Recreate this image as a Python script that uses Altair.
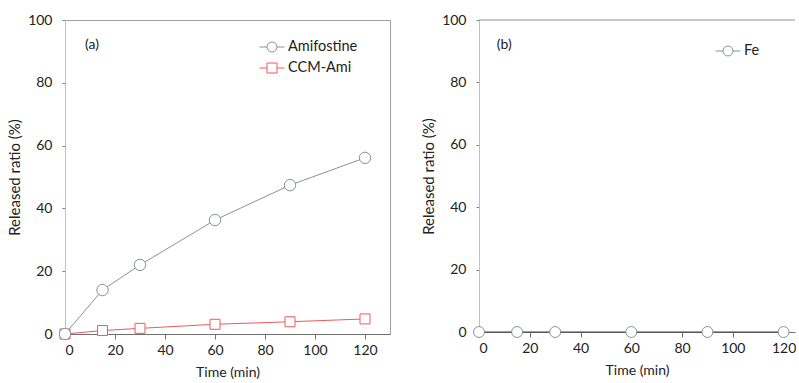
import altair as alt
import pandas as pd

time_a = [0, 15, 30, 60, 90, 120]
amifostine = [0, 14.0, 22.0, 36.3, 47.4, 56.1]
ccm_ami = [0, 1.1, 1.8, 3.1, 3.9, 4.8]
time_b = [0, 15, 30, 60, 90, 120]
fe = [0, 0, 0, 0, 0, 0]

df_a = pd.DataFrame(
    {"t": time_a * 2, "v": amifostine + ccm_ami,
     "s": ["Amifostine"] * len(time_a) + ["CCM-Ami"] * len(time_a)}
)
df_b = pd.DataFrame({"t": time_b, "v": fe, "s": ["Fe"] * len(time_b)})

FONT = "Lato"
CIRC = "M -1 0 L -0.4 0 M 0.4 0 L 1 0 M -0.4 0 A 0.4 0.4 0 1 0 0.4 0 A 0.4 0.4 0 1 0 -0.4 0 Z"
SQR = "M -1 0 L -0.4 0 M 0.4 0 L 1 0 M -0.4 -0.4 L 0.4 -0.4 L 0.4 0.4 L -0.4 0.4 Z"

def yaxis():
    return alt.Axis(values=list(range(0, 101, 10)),
                    labelExpr="datum.value % 20 == 0 ? datum.label : ''",
                    title="Released ratio (%)", titleX=-42.5, titleFontWeight="normal",
                    titleFontSize=15, labelFontSize=14, tickSize=3, labelPadding=10,
                    grid=False, domainColor="#c0c0c0", tickColor="#808080",
                    labelColor="#222", titleColor="#222", labelFont=FONT, titleFont=FONT)

def xaxis():
    return alt.Axis(values=[0, 20, 40, 60, 80, 100, 120], title="Time (min)",
                    titleFontWeight="normal", titleFontSize=14, labelFontSize=14,
                    tickSize=5, labelPadding=4, titlePadding=8, grid=False,
                    domainColor="#707070", tickColor="#707070",
                    labelColor="#222", titleColor="#222", labelFont=FONT, titleFont=FONT)

def legend(x, y):
    return alt.Legend(title=None, orient="none", legendX=x, legendY=y,
                      symbolSize=625, labelFontSize=14.5, labelFont=FONT, labelColor="#222",
                      labelOffset=3, rowPadding=1, padding=0, symbolFillColor="white",
                      symbolStrokeWidth=1, symbolOpacity=1)

series_a = ["Amifostine", "CCM-Ami"]
colors_a = ["#8a919c", "#ee5a5a"]
sc_a = alt.Scale(domain=series_a, range=colors_a)
leg_a = legend(194, 14)

xa = alt.X("t:Q", scale=alt.Scale(domain=[0, 130], nice=False), axis=xaxis())
ya = alt.Y("v:Q", scale=alt.Scale(domain=[0, 100], nice=False), axis=yaxis())

base_a = alt.Chart(df_a)
line_a = base_a.mark_line(strokeWidth=1).encode(
    x=xa, y=ya, stroke=alt.Stroke("s:N", scale=sc_a, legend=leg_a))
sq_a = base_a.transform_filter("datum.s === 'CCM-Ami'").mark_point(
    shape="square", size=100, fill="white", stroke=colors_a[1], filled=False, opacity=1,
    strokeWidth=1, clip=False
).encode(x=xa, y=ya)
circ_a = base_a.transform_filter("datum.s === 'Amifostine'").mark_point(
    shape="circle", size=130, fill="white", stroke=colors_a[0], filled=False, opacity=1,
    strokeWidth=1, clip=False
).encode(x=xa, y=ya)
legl_a = base_a.transform_filter("false").mark_point(
    size=625, fill="white", filled=False, opacity=1, strokeWidth=1
).encode(x=xa, y=ya, stroke=alt.Stroke("s:N", scale=sc_a, legend=leg_a),
         shape=alt.Shape("s:N", scale=alt.Scale(domain=series_a, range=[CIRC, SQR]), legend=leg_a))
lab_a = alt.Chart(pd.DataFrame({"t": [8], "v": [92], "l": ["(a)"]})).mark_text(
    align="left", fontSize=14, font=FONT, color="#222").encode(x="t:Q", y="v:Q", text="l:N")

panel_a = alt.layer(line_a, sq_a, circ_a, legl_a, lab_a).properties(
    width=325, height=314, view=alt.ViewBackground(stroke="#a0a0a0", strokeWidth=1))

# Panel (b)
sc_b = alt.Scale(domain=["Fe"], range=["#8a919c"])
leg_b = legend(236, 18)
xb = alt.X("t:Q", scale=alt.Scale(domain=[0, 124.5], nice=False), axis=xaxis())
yb = alt.Y("v:Q", scale=alt.Scale(domain=[0, 100], nice=False), axis=yaxis())

base_b = alt.Chart(df_b)
line_b = base_b.mark_line(strokeWidth=1, color="#404040").encode(x=xb, y=yb)
pts_b = base_b.mark_point(fill="white", filled=False, opacity=1, strokeWidth=1, size=120,
                          shape="circle", clip=False).encode(
    x=xb, y=yb, stroke=alt.Stroke("s:N", scale=sc_b, legend=leg_b))
legl_b = base_b.transform_filter("false").mark_point(
    size=625, fill="white", filled=False, opacity=1, strokeWidth=1
).encode(x=xb, y=yb, stroke=alt.Stroke("s:N", scale=sc_b, legend=leg_b),
         shape=alt.Shape("s:N", scale=alt.Scale(domain=["Fe"], range=[CIRC]), legend=leg_b))
top_b = alt.Chart(pd.DataFrame({"v": [100]})).mark_rule(color="#909090", strokeWidth=1).encode(y="v:Q")
lab_b = alt.Chart(pd.DataFrame({"t": [7], "v": [92], "l": ["(b)"]})).mark_text(
    align="left", fontSize=14, font=FONT, color="#222").encode(x="t:Q", y="v:Q", text="l:N")

panel_b = alt.layer(top_b, line_b, pts_b, legl_b, lab_b).properties(
    width=316, height=312, view=alt.ViewBackground(stroke=None))

chart = alt.hconcat(panel_a, panel_b, spacing=30).resolve_scale(
    x="independent", y="independent", stroke="independent", shape="independent"
).resolve_legend(stroke="independent", shape="independent").properties(
    padding={"left": 7, "top": 12, "right": 0, "bottom": 0}
).configure_view(stroke=None).configure(background="white")

chart.save("out.html", embed_options={"renderer": "svg", "actions": False})
